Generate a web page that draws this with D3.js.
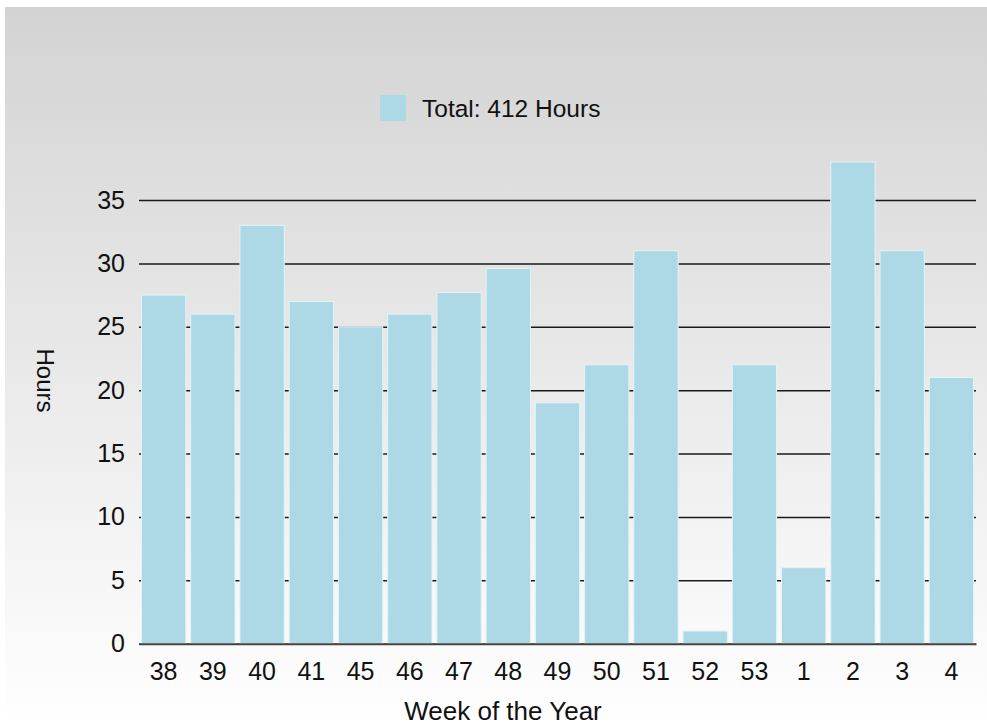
<!DOCTYPE html>
<html>
<head>
<meta charset="utf-8">
<script src="https://cdn.jsdelivr.net/npm/d3@7"></script>
<style>
  html, body { margin: 0; padding: 0; background: #ffffff; }
  svg { display: block; }
  text { font-family: "Liberation Sans", Arial, Helvetica, sans-serif; fill: #111; }
</style>
</head>
<body>
<svg id="chart" width="987" height="726"></svg>
<script>
// Hours logged per week of the year
const weeks = ["38", "39", "40", "41", "45", "46", "47", "48", "49", "50", "51", "52", "53", "1", "2", "3", "4"];
const hours = [27.5, 26, 33, 27, 25, 26, 27.7, 29.6, 19, 22, 31, 1, 22, 6, 38, 31, 21];
const yTicks = [0, 5, 10, 15, 20, 25, 30, 35];
const legendLabel = "Total: 412 Hours";
const xTitle = "Week of the Year";
const yTitle = "Hours";

const svg = d3.select("#chart");
const W = 987, H = 726;
const plot = { left: 139, right: 976, top: 200, bottom: 643.7 };

// background: vertical grey-to-white gradient
const defs = svg.append("defs");
const grad = defs.append("linearGradient")
  .attr("id", "bg").attr("x1", 0).attr("y1", 0).attr("x2", 0).attr("y2", 1);
grad.append("stop").attr("offset", "0%").attr("stop-color", "#d3d3d3");
grad.append("stop").attr("offset", "100%").attr("stop-color", "#ffffff");
svg.append("rect").attr("x", 5).attr("y", 7).attr("width", W - 5).attr("height", H - 7)
  .attr("fill", "url(#bg)");

const x = d3.scaleBand().domain(weeks).range([plot.left, plot.right])
  .paddingInner(0.1).paddingOuter(0.05);
const y = d3.scaleLinear().domain([0, 35]).range([plot.bottom, plot.top]);

// horizontal gridlines + y tick labels
const yAxis = svg.append("g").attr("transform", `translate(${plot.left},0)`)
  .call(d3.axisLeft(y).tickValues(yTicks).tickFormat(d3.format("d"))
    .tickSize(-(plot.right - plot.left)).tickPadding(14));
yAxis.select(".domain").remove();
yAxis.selectAll(".tick line").attr("stroke", "#1a1a1a").attr("stroke-width", 1.5);
yAxis.selectAll(".tick text").attr("font-size", 25).style("fill", "#111");
yAxis.attr("font-family", null);

// bars
svg.append("g").selectAll("rect").data(weeks).join("rect")
  .attr("x", d => x(d))
  .attr("width", x.bandwidth())
  .attr("y", (d, i) => y(hours[i]))
  .attr("height", (d, i) => y(0) - y(hours[i]))
  .attr("fill", "#add8e6")
  .attr("stroke", "#e6f2f6")
  .attr("stroke-width", 1);

// baseline axis + week labels
const xAxis = svg.append("g").attr("transform", `translate(0,${plot.bottom})`)
  .call(d3.axisBottom(x).tickSize(0).tickPadding(19));
xAxis.attr("font-family", null);
xAxis.select(".domain").attr("stroke", "#444").attr("stroke-width", 2);
xAxis.selectAll(".tick text").attr("font-size", 25).style("fill", "#111");

// axis titles
svg.append("text").attr("x", 503).attr("y", 719.5)
  .attr("text-anchor", "middle").attr("font-size", 26).text(xTitle);
svg.append("text").attr("transform", "translate(37,380.5) rotate(90)")
  .attr("text-anchor", "middle").attr("font-size", 24).text(yTitle);

// legend
const legend = svg.append("g");
legend.append("rect").attr("x", 380).attr("y", 95).attr("width", 26).attr("height", 26)
  .attr("fill", "#add8e6");
legend.append("text").attr("x", 422).attr("y", 108).attr("dy", "0.35em")
  .attr("font-size", 24.5).text(legendLabel);
</script>
</body>
</html>
